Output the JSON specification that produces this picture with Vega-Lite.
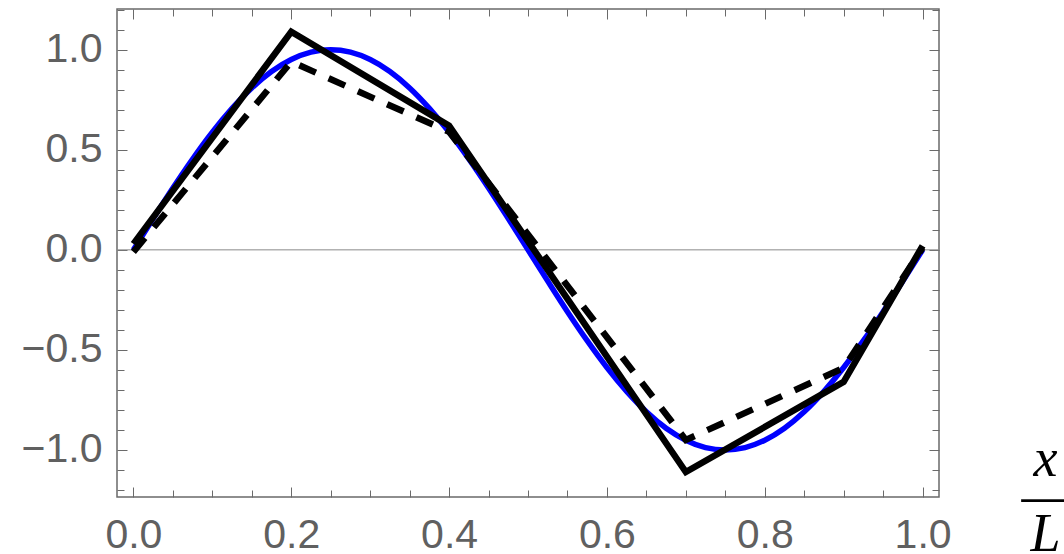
{
  "$schema": "https://vega.github.io/schema/vega-lite/v6.json",
  "width": 822,
  "height": 488,
  "autosize": {"type": "none"},
  "padding": {"left": 117, "top": 9, "right": 125, "bottom": 57},
  "background": "white",
  "config": {
    "view": {"stroke": "#6a6a6a", "strokeWidth": 1.5},
    "axis": {
      "domain": false,
      "grid": false,
      "title": null,
      "labelFont": "Liberation Sans",
      "labelFontSize": 41,
      "labelColor": "#606060",
      "labelFlush": false,
      "labelOverlap": false,
      "tickColor": "#6a6a6a",
      "tickWidth": 1
    }
  },
  "datasets": {
    "sine": [
      {"x": 0, "y": 0}, {"x": 0.025, "y": 0.156}, {"x": 0.05, "y": 0.309}, {"x": 0.075, "y": 0.454},
      {"x": 0.1, "y": 0.588}, {"x": 0.125, "y": 0.707}, {"x": 0.15, "y": 0.809}, {"x": 0.175, "y": 0.891},
      {"x": 0.2, "y": 0.951}, {"x": 0.225, "y": 0.988}, {"x": 0.25, "y": 1}, {"x": 0.275, "y": 0.988},
      {"x": 0.3, "y": 0.951}, {"x": 0.325, "y": 0.891}, {"x": 0.35, "y": 0.809}, {"x": 0.375, "y": 0.707},
      {"x": 0.4, "y": 0.588}, {"x": 0.425, "y": 0.454}, {"x": 0.45, "y": 0.309}, {"x": 0.475, "y": 0.156},
      {"x": 0.5, "y": 0}, {"x": 0.525, "y": -0.156}, {"x": 0.55, "y": -0.309}, {"x": 0.575, "y": -0.454},
      {"x": 0.6, "y": -0.588}, {"x": 0.625, "y": -0.707}, {"x": 0.65, "y": -0.809}, {"x": 0.675, "y": -0.891},
      {"x": 0.7, "y": -0.951}, {"x": 0.725, "y": -0.988}, {"x": 0.75, "y": -1}, {"x": 0.775, "y": -0.988},
      {"x": 0.8, "y": -0.951}, {"x": 0.825, "y": -0.891}, {"x": 0.85, "y": -0.809}, {"x": 0.875, "y": -0.707},
      {"x": 0.9, "y": -0.588}, {"x": 0.925, "y": -0.454}, {"x": 0.95, "y": -0.309}, {"x": 0.975, "y": -0.156},
      {"x": 1, "y": 0}
    ],
    "solid": [
      {"x": 0, "y": 0.03}, {"x": 0.2, "y": 1.09}, {"x": 0.4, "y": 0.62},
      {"x": 0.7, "y": -1.11}, {"x": 0.9, "y": -0.66}, {"x": 1, "y": 0.02}
    ],
    "dashed": [
      {"x": 0, "y": -0.01}, {"x": 0.2, "y": 0.94}, {"x": 0.4, "y": 0.59},
      {"x": 0.7, "y": -0.95}, {"x": 0.9, "y": -0.59}, {"x": 1, "y": 0.01}
    ],
    "zero": [{"y": 0}]
  },
  "layer": [
    {
      "data": {"name": "zero"},
      "mark": {"type": "rule", "color": "#8a8a8a", "strokeWidth": 1},
      "encoding": {
        "y": {
          "field": "y", "type": "quantitative",
          "scale": {"domain": [-1.235, 1.2035], "nice": false, "zero": false},
          "axis": {"orient": "left", "ticks": false, "labelPadding": 15, "format": ".1f", "values": [-1, -0.5, 0, 0.5, 1]}
        }
      }
    },
    {
      "data": {"name": "sine"},
      "mark": {"type": "line", "color": "#0000ff", "strokeWidth": 5.5, "interpolate": "monotone"},
      "encoding": {
        "x": {
          "field": "x", "type": "quantitative",
          "scale": {"domain": [-0.0208, 1.0208], "nice": false, "zero": false},
          "axis": {
            "orient": "bottom", "ticks": false, "labelPadding": 18, "format": ".1f",
            "values": [0, 0.2, 0.4, 0.6, 0.8, 1],
            "title": ["x", "—", "L"],
            "titleFont": "Liberation Serif", "titleFontStyle": "italic", "titleFontWeight": "normal",
            "titleFontSize": 54, "titleColor": "black", "titleAlign": "center", "titleBaseline": "alphabetic",
            "titleLineHeight": 37.5, "titleX": 928, "titleY": -22, "titleAngle": 0
          }
        },
        "y": {
          "field": "y", "type": "quantitative",
          "axis": {"orient": "left", "labels": false, "tickSize": -10, "values": [-1, -0.5, 0, 0.5, 1]}
        }
      }
    },
    {
      "data": {"name": "solid"},
      "mark": {"type": "line", "color": "black", "strokeWidth": 6.5, "strokeJoin": "miter", "strokeCap": "butt"},
      "encoding": {
        "x": {
          "field": "x", "type": "quantitative",
          "axis": {"orient": "bottom", "labels": false, "tickSize": -10, "values": [0, 0.2, 0.4, 0.6, 0.8, 1]}
        },
        "y": {
          "field": "y", "type": "quantitative",
          "axis": {"orient": "left", "labels": false, "tickSize": -7,
            "values": [-1.2, -1.1, -0.9, -0.8, -0.7, -0.6, -0.4, -0.3, -0.2, -0.1, 0.1, 0.2, 0.3, 0.4, 0.6, 0.7, 0.8, 0.9, 1.1, 1.2]}
        }
      }
    },
    {
      "data": {"name": "dashed"},
      "mark": {"type": "line", "color": "black", "strokeWidth": 6.5, "strokeDash": [18, 14], "strokeJoin": "miter", "strokeCap": "butt"},
      "encoding": {
        "x": {
          "field": "x", "type": "quantitative",
          "axis": {"orient": "bottom", "labels": false, "tickSize": -7,
            "values": [0.05, 0.1, 0.15, 0.25, 0.3, 0.35, 0.45, 0.5, 0.55, 0.65, 0.7, 0.75, 0.85, 0.9, 0.95]}
        },
        "y": {
          "field": "y", "type": "quantitative",
          "axis": {"orient": "right", "labels": false, "tickSize": -10, "values": [-1, -0.5, 0, 0.5, 1]}
        }
      }
    },
    {
      "data": {"name": "solid"},
      "mark": {"type": "line", "strokeOpacity": 0},
      "encoding": {
        "x": {
          "field": "x", "type": "quantitative",
          "axis": {"orient": "top", "labels": false, "tickSize": -10, "values": [0, 0.2, 0.4, 0.6, 0.8, 1]}
        },
        "y": {
          "field": "y", "type": "quantitative",
          "axis": {"orient": "right", "labels": false, "tickSize": -7,
            "values": [-1.2, -1.1, -0.9, -0.8, -0.7, -0.6, -0.4, -0.3, -0.2, -0.1, 0.1, 0.2, 0.3, 0.4, 0.6, 0.7, 0.8, 0.9, 1.1, 1.2]}
        }
      }
    },
    {
      "data": {"name": "solid"},
      "mark": {"type": "line", "strokeOpacity": 0},
      "encoding": {
        "x": {
          "field": "x", "type": "quantitative",
          "axis": {"orient": "top", "labels": false, "tickSize": -7,
            "values": [0.05, 0.1, 0.15, 0.25, 0.3, 0.35, 0.45, 0.5, 0.55, 0.65, 0.7, 0.75, 0.85, 0.9, 0.95]}
        },
        "y": {"field": "y", "type": "quantitative", "axis": null}
      }
    }
  ],
  "resolve": {"axis": {"x": "independent", "y": "independent"}}
}
